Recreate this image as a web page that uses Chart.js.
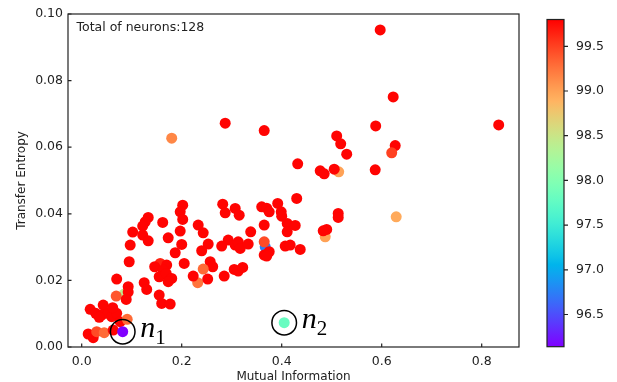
<!DOCTYPE html>
<html>
<head>
<meta charset="utf-8">
<script src="https://cdn.jsdelivr.net/npm/chart.js@4"></script>
<style>
  html, body { margin: 0; padding: 0; background: #fff; }
  #wrap { position: relative; width: 617px; height: 382px; }
  #main { position: absolute; left: 0; top: 0; }
  #cbar { position: absolute; left: 540px; top: 0; }
</style>
</head>
<body>
<div id="wrap">
  <canvas id="main" width="617" height="382"></canvas>
  <canvas id="cbar" width="77" height="382"></canvas>
</div>
<script>
// points drawn in this order; the two marked neurons (n1, n2) are the last two
const miX = [
  0.367, 0.085, 0.514, 0.487,
  0.180, 0.287, 0.365, 0.432, 0.430, 0.597, 0.623, 0.834, 0.588, 0.510,
  0.518, 0.627, 0.620, 0.530, 0.477, 0.485, 0.505, 0.587, 0.513, 0.513,
  0.629, 0.490, 0.483, 0.437, 0.411, 0.427, 0.411, 0.407, 0.417, 0.392,
  0.360, 0.370, 0.375, 0.399, 0.400, 0.282, 0.287, 0.307, 0.315, 0.202,
  0.197, 0.202, 0.162, 0.133, 0.127, 0.122, 0.233, 0.243, 0.197, 0.102,
  0.122, 0.133, 0.173, 0.338, 0.365, 0.293, 0.280, 0.307, 0.313, 0.317,
  0.333, 0.365, 0.365, 0.375, 0.370, 0.253, 0.240, 0.200, 0.187, 0.257,
  0.262, 0.243, 0.232, 0.223, 0.252, 0.285, 0.305, 0.313, 0.322, 0.205,
  0.157, 0.146, 0.170, 0.163, 0.155, 0.169, 0.180, 0.173, 0.125, 0.130,
  0.155, 0.160, 0.177, 0.097, 0.095, 0.070, 0.093, 0.069, 0.093, 0.089,
  0.017, 0.028, 0.043, 0.040, 0.053, 0.060, 0.070, 0.077, 0.091, 0.013,
  0.023, 0.030, 0.045, 0.063, 0.062, 0.035,
  0.082, 0.405
];
const teY = [
  0.0301, 0.0159, 0.0526, 0.0331,
  0.0627, 0.0672, 0.0650, 0.0550, 0.0446, 0.0952, 0.0751, 0.0667, 0.0664, 0.0634,
  0.0610, 0.0605, 0.0583, 0.0579, 0.0529, 0.0520, 0.0534, 0.0532, 0.0401, 0.0389,
  0.0391, 0.0353, 0.0349, 0.0293, 0.0371, 0.0365, 0.0346, 0.0303, 0.0306, 0.0431,
  0.0421, 0.0417, 0.0406, 0.0406, 0.0393, 0.0429, 0.0403, 0.0416, 0.0396, 0.0426,
  0.0406, 0.0383, 0.0374, 0.0389, 0.0376, 0.0363, 0.0366, 0.0343, 0.0348, 0.0345,
  0.0336, 0.0319, 0.0328, 0.0346, 0.0366, 0.0321, 0.0303, 0.0306, 0.0316, 0.0296,
  0.0309, 0.0316, 0.0276, 0.0286, 0.0273, 0.0309, 0.0289, 0.0308, 0.0283, 0.0256,
  0.0241, 0.0234, 0.0193, 0.0213, 0.0204, 0.0213, 0.0233, 0.0228, 0.0239, 0.0251,
  0.0251, 0.0241, 0.0246, 0.0231, 0.0211, 0.0221, 0.0206, 0.0196, 0.0193, 0.0173,
  0.0156, 0.0131, 0.0129, 0.0306, 0.0256, 0.0204, 0.0181, 0.0153, 0.0165, 0.0143,
  0.0113, 0.0101, 0.0126, 0.0096, 0.0101, 0.0091, 0.0101, 0.0076, 0.0083, 0.0039,
  0.0028, 0.0046, 0.0043, 0.0051, 0.0118, 0.0089,
  0.0046, 0.0073
];
// colour value of each neuron (colorbar scale)
const acc = [
  96.75, 98.40, 99.00, 99.00,
  99.15, 99.78, 99.78, 99.78, 99.78, 99.78, 99.78, 99.78, 99.78, 99.78,
  99.78, 99.78, 99.50, 99.78, 99.78, 99.78, 99.78, 99.78, 99.78, 99.78,
  98.95, 99.78, 99.78, 99.78, 99.78, 99.78, 99.78, 99.78, 99.78, 99.78,
  99.78, 99.78, 99.78, 99.78, 99.78, 99.78, 99.78, 99.78, 99.78, 99.78,
  99.78, 99.78, 99.78, 99.78, 99.78, 99.78, 99.78, 99.78, 99.78, 99.78,
  99.78, 99.78, 99.78, 99.78, 99.78, 99.78, 99.78, 99.78, 99.78, 99.78,
  99.78, 99.45, 99.78, 99.78, 99.78, 99.78, 99.78, 99.78, 99.78, 99.78,
  99.78, 99.30, 99.25, 99.78, 99.78, 99.78, 99.78, 99.78, 99.78, 99.78,
  99.65, 99.78, 99.78, 99.78, 99.78, 99.78, 99.78, 99.78, 99.78, 99.78,
  99.78, 99.78, 99.78, 99.78, 99.78, 99.78, 99.78, 99.40, 99.78, 99.78,
  99.78, 99.78, 99.78, 99.78, 99.78, 99.78, 99.78, 99.78, 99.30, 99.78,
  99.78, 99.45, 99.30, 99.78, 99.78, 99.78,
  96.14, 97.80
];
const markedSubs = ["1", "2"];

const xTicks = [0, 0.2, 0.4, 0.6, 0.8];
const yTicks = [0, 0.02, 0.04, 0.06, 0.08, 0.1];
const cbTicks = [96.5, 97.0, 97.5, 98.0, 98.5, 99.0, 99.5];
const xRange = [-0.0274, 0.8746];
const yRange = [0, 0.1];
const accRange = [96.14, 99.80];
const noteText = "Total of neurons:128";

const FONT = "'DejaVu Sans', sans-serif";

// matplotlib "rainbow" colormap
function rainbow(v) {
  const t = Math.min(1, Math.max(0, (v - accRange[0]) / (accRange[1] - accRange[0])));
  const c = x => Math.round(255 * Math.min(1, Math.max(0, x)));
  return `rgb(${c(Math.abs(2 * t - 0.5))},${c(Math.sin(Math.PI * t))},${c(Math.cos(Math.PI * t / 2))})`;
}

const framePlugin = {
  id: "frame",
  afterDatasetsDraw(chart) {
    const { ctx, chartArea: a, scales: { x, y } } = chart;
    ctx.save();
    ctx.strokeStyle = "#222";
    ctx.lineWidth = 1.2;
    ctx.strokeRect(a.left, a.top, a.right - a.left, a.bottom - a.top);
    ctx.beginPath();
    xTicks.forEach(v => {
      const px = x.getPixelForValue(v);
      ctx.moveTo(px, a.bottom); ctx.lineTo(px, a.bottom - 3.5);
    });
    yTicks.forEach(v => {
      const py = y.getPixelForValue(v);
      ctx.moveTo(a.left, py); ctx.lineTo(a.left + 3.5, py);
    });
    ctx.stroke();

    ctx.fillStyle = "#222";
    ctx.font = "12.5px " + FONT;
    ctx.textBaseline = "alphabetic";
    ctx.fillText(noteText, a.left + 8.5, a.top + 17);

    // circled neurons with labels
    const n = miX.length;
    markedSubs.forEach((sub, k) => {
      const i = n - markedSubs.length + k;
      const px = x.getPixelForValue(miX[i]);
      const py = y.getPixelForValue(teY[i]);
      ctx.beginPath();
      ctx.lineWidth = 1.5;
      ctx.strokeStyle = "#000";
      ctx.arc(px, py, 12.3, 0, Math.PI * 2);
      ctx.stroke();
      ctx.fillStyle = "#000";
      ctx.font = "italic 30px 'Liberation Serif', serif";
      ctx.fillText("n", px + 17.5, py + 5.5);
      const w = ctx.measureText("n").width;
      ctx.font = "21px 'Liberation Serif', serif";
      ctx.fillText(sub, px + 17.5 + w, py + 12.5);
    });
    ctx.restore();
  }
};

new Chart(document.getElementById("main"), {
  type: "scatter",
  data: {
    datasets: [{
      data: miX.map((v, i) => ({ x: v, y: teY[i] })),
      backgroundColor: acc.map(rainbow),
      borderWidth: 0,
      pointRadius: 5.5,
      pointHoverRadius: 5.5
    }]
  },
  options: {
    responsive: false,
    animation: false,
    events: [],
    layout: { padding: { left: 0, top: 14, right: 98, bottom: 0 } },
    plugins: { legend: { display: false }, tooltip: { enabled: false } },
    scales: {
      x: {
        type: "linear", min: xRange[0], max: xRange[1],
        afterBuildTicks: s => { s.ticks = xTicks.map(v => ({ value: v })); },
        afterFit: s => { s.height = 35; },
        grid: { display: false, drawTicks: false },
        border: { display: false },
        ticks: { autoSkip: false, maxRotation: 0, padding: 7, color: "#222",
                 font: { family: FONT, size: 12.5 }, callback: v => v.toFixed(1) },
        title: { display: true, text: "Mutual Information", color: "#222",
                 font: { family: FONT, size: 12 }, padding: { top: 0, bottom: -2 } }
      },
      y: {
        type: "linear", min: yRange[0], max: yRange[1],
        afterBuildTicks: s => { s.ticks = yTicks.map(v => ({ value: v })); },
        afterFit: s => { s.width = 68; },
        grid: { display: false, drawTicks: false },
        border: { display: false },
        ticks: { autoSkip: false, padding: 5, color: "#222",
                 font: { family: FONT, size: 12.5 }, callback: v => v.toFixed(2) },
        title: { display: true, text: "Transfer Entropy", color: "#222",
                 font: { family: FONT, size: 12 }, padding: { top: 15, bottom: 0 } }
      }
    }
  },
  plugins: [framePlugin]
});

const cbarPlugin = {
  id: "cbarFill",
  beforeDatasetsDraw(chart) {
    const { ctx, chartArea: a, scales: { y } } = chart;
    const g = ctx.createLinearGradient(0, a.bottom, 0, a.top);
    for (let k = 0; k <= 40; k++) {
      const v = accRange[0] + (accRange[1] - accRange[0]) * k / 40;
      g.addColorStop(k / 40, rainbow(v));
    }
    ctx.save();
    ctx.fillStyle = g;
    ctx.fillRect(a.left, a.top, a.right - a.left, a.bottom - a.top);
    ctx.strokeStyle = "#222";
    ctx.lineWidth = 1.2;
    ctx.strokeRect(a.left, a.top, a.right - a.left, a.bottom - a.top);
    ctx.beginPath();
    cbTicks.forEach(v => {
      const py = y.getPixelForValue(v);
      ctx.moveTo(a.right, py); ctx.lineTo(a.right + 4, py);
    });
    ctx.stroke();
    ctx.restore();
  }
};

new Chart(document.getElementById("cbar"), {
  type: "scatter",
  data: { datasets: [] },
  options: {
    responsive: false,
    animation: false,
    events: [],
    layout: { padding: { left: 7, top: 14, right: 0, bottom: 35.3 } },
    plugins: { legend: { display: false }, tooltip: { enabled: false } },
    scales: {
      x: { display: false },
      y: {
        type: "linear", position: "right", min: accRange[0], max: accRange[1],
        afterBuildTicks: s => { s.ticks = cbTicks.map(v => ({ value: v })); },
        afterFit: s => { s.width = 53; },
        grid: { display: false, drawTicks: false },
        border: { display: false },
        ticks: { autoSkip: false, padding: 12, color: "#222",
                 font: { family: FONT, size: 12.5 }, callback: v => v.toFixed(1) }
      }
    }
  },
  plugins: [cbarPlugin]
});
</script>
</body>
</html>
